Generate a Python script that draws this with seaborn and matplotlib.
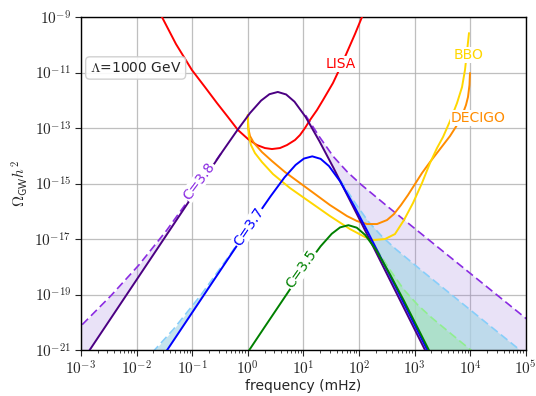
import numpy as np
import matplotlib
matplotlib.use("Agg")
import matplotlib.pyplot as plt
import seaborn as sns
from matplotlib.ticker import FuncFormatter, FixedLocator, LogLocator, NullLocator

sns.set_style("ticks")
plt.rcParams['font.family'] = ['DejaVu Sans']
plt.rcParams['mathtext.fontset'] = 'cm'

# ---- data (log10 of frequency [mHz] and log10 of Omega h^2) ----
lisa_lf = [-1.669, -1.543, -1.291, -1.004, -0.770, -0.554, -0.356, -0.176, 0.004, 0.165, 0.309, 0.435,
           0.579, 0.705, 0.849, 0.939, 1.029, 1.119, 1.245, 1.353, 1.532, 1.676, 1.802, 1.928, 2.054, 2.162]
lisa_lo = [-8.604, -9.0, -9.973, -10.910, -11.523, -12.099, -12.604, -13.072, -13.396, -13.613, -13.721, -13.757,
           -13.721, -13.613, -13.432, -13.252, -13.0, -12.712, -12.351, -11.991, -11.378, -10.766, -10.189, -9.613, -9.0, -8.495]

decigo_lf = [0.0, 0.009, 0.040, 0.112, 0.255, 0.435, 0.669, 0.939, 1.209, 1.478, 1.784, 1.964, 2.144, 2.324,
             2.504, 2.629, 2.755, 2.881, 3.007, 3.133, 3.277, 3.457, 3.637, 3.763, 3.871, 3.924, 3.960, 3.987, 3.996]
decigo_lo = [-12.532, -13.0, -13.288, -13.541, -13.865, -14.189, -14.586, -14.982, -15.378, -15.775, -16.171, -16.351,
             -16.459, -16.459, -16.315, -16.099, -15.775, -15.414, -15.018, -14.622, -14.225, -13.757, -13.288,
             -12.892, -12.459, -12.171, -11.883, -11.450, -11.018]

bbo_lf = [0.0, 0.009, 0.022, 0.058, 0.129, 0.255, 0.453, 0.759, 1.119, 1.478, 1.838, 2.108, 2.252, 2.468,
          2.647, 2.809, 2.971, 3.133, 3.277, 3.403, 3.511, 3.637, 3.763, 3.853, 3.906, 3.942, 3.978]
bbo_lo = [-12.532, -13.0, -13.324, -13.613, -13.901, -14.225, -14.658, -15.162, -15.667, -16.171, -16.640, -16.928,
          -17.036, -17.0, -16.820, -16.315, -15.703, -14.982, -14.261, -13.721, -13.324, -12.748, -12.099, -11.523,
          -10.910, -10.261, -9.577]

# C = 3.8
c38_lf = [-3.46, -2.96, -2.46, -1.96, -1.46, -0.96, -0.46, -0.21, 0.04, 0.24, 0.39, 0.54, 0.69, 0.84, 1.04, 1.29, 1.54, 1.79, 2.04, 2.54, 3.04, 3.54]
c38_lo = [-22.85, -21.35, -19.85, -18.35, -16.85, -15.35, -13.86, -13.14, -12.46, -12.01, -11.78, -11.70, -11.79, -12.05, -12.60, -13.48, -14.43, -15.42, -16.41, -18.41, -20.41, -22.41]
c38_dlow_lf = [-3.46, -2.96, -2.46, -1.96, -1.46, -0.96, -0.46]
c38_dlow_lo = [-21.03, -20.05, -19.04, -17.94, -16.69, -15.30, -13.85]
c38_dhigh_lf = [1.04, 1.29, 1.54, 1.79, 2.04, 2.54, 3.04, 3.54, 4.04, 4.54, 5.04]
c38_dhigh_lo = [-12.54, -13.32, -14.03, -14.58, -15.04, -15.87, -16.68, -17.49, -18.30, -19.11, -19.92]

# C = 3.7
c37_lf = [-1.84, -1.34, -0.84, -0.34, 0.16, 0.41, 0.66, 0.86, 1.01, 1.16, 1.31, 1.46, 1.66, 1.91, 2.16, 2.41, 2.66, 3.16, 3.66]
c37_lo = [-22.17, -20.67, -19.17, -17.67, -16.18, -15.46, -14.78, -14.33, -14.10, -14.02, -14.11, -14.37, -14.92, -15.80, -16.75, -17.74, -18.73, -20.73, -22.73]
c37_dlow_lf = [-2.34, -1.84, -1.34, -0.84, -0.34, 0.16]
c37_dlow_lo = [-22.37, -21.36, -20.26, -19.01, -17.62, -16.17]
c37_dhigh_lf = [1.66, 1.91, 2.16, 2.41, 2.66, 3.16, 3.66, 4.16, 4.66, 5.16]
c37_dhigh_lo = [-14.86, -15.64, -16.35, -16.90, -17.36, -18.19, -19.00, -19.81, -20.62, -21.43]

# C = 3.5
c35_lf = [-0.19, 0.31, 0.81, 1.06, 1.31, 1.51, 1.66, 1.81, 1.96, 2.11, 2.31, 2.56, 2.81, 3.06, 3.31, 3.81]
c35_lo = [-21.65, -20.15, -18.66, -17.94, -17.26, -16.81, -16.58, -16.50, -16.59, -16.85, -17.40, -18.28, -19.23, -20.22, -21.21, -23.21]
c35_dhigh_lf = [2.31, 2.56, 2.81, 3.06, 3.31, 3.81, 4.31]
c35_dhigh_lo = [-17.34, -18.12, -18.83, -19.38, -19.84, -20.67, -21.48]

xticks_exp = [-3, -2, -1, 0, 1, 2, 3, 4, 5]
yticks_exp = [-21, -19, -17, -15, -13, -11, -9]


def p(a):
    return 10.0 ** np.asarray(a)


fig = plt.figure(figsize=(5.36, 3.96), dpi=100)
ax = fig.add_axes([0.151, 0.116, 0.830, 0.841])
ax.set_xscale('log')
ax.set_yscale('log')


def shade(dlf, dlo, slf, slo, color, alpha):
    sol = np.interp(dlf, slf, slo)
    ax.fill_between(p(dlf), p(sol), p(dlo), color=color, alpha=alpha, lw=0, zorder=1)


shade(c38_dlow_lf, c38_dlow_lo, c38_lf, c38_lo, 'mediumpurple', 0.2)
shade(c38_dhigh_lf, c38_dhigh_lo, c38_lf, c38_lo, 'mediumpurple', 0.2)
shade(c37_dlow_lf, c37_dlow_lo, c37_lf, c37_lo, 'lightblue', 0.7)
shade(c37_dhigh_lf, c37_dhigh_lo, c37_lf, c37_lo, 'lightblue', 0.7)
shade(c35_dhigh_lf, c35_dhigh_lo, c35_lf, c35_lo, 'lightgreen', 0.35)

lw = 1.4
kw = dict(ax=ax, sort=False, estimator=None, legend=False)


def dashed(lf, lo, color):
    sns.lineplot(x=p(lf), y=p(lo), color=color, lw=1.2, zorder=2, **kw)
    ax.lines[-1].set_dashes([5, 2.5])


dashed(c38_dlow_lf, c38_dlow_lo, 'blueviolet')
dashed(c38_dhigh_lf, c38_dhigh_lo, 'blueviolet')
dashed(c37_dlow_lf, c37_dlow_lo, 'lightskyblue')
dashed(c37_dhigh_lf, c37_dhigh_lo, 'lightskyblue')
dashed(c35_dhigh_lf, c35_dhigh_lo, 'lightgreen')

sns.lineplot(x=p(lisa_lf), y=p(lisa_lo), color='red', lw=lw, zorder=3, **kw)
sns.lineplot(x=p(decigo_lf), y=p(decigo_lo), color='darkorange', lw=lw, zorder=3, **kw)
sns.lineplot(x=p(bbo_lf), y=p(bbo_lo), color='gold', lw=lw, zorder=3, **kw)

sns.lineplot(x=p(c38_lf), y=p(c38_lo), color='indigo', lw=lw, zorder=4, **kw)
sns.lineplot(x=p(c37_lf), y=p(c37_lo), color='blue', lw=lw, zorder=4, **kw)
sns.lineplot(x=p(c35_lf), y=p(c35_lo), color='green', lw=lw, zorder=4, **kw)

ax.set_xlim(1e-3, 1e5)
ax.set_ylim(1e-21, 1e-9)

fmt = FuncFormatter(lambda v, pos: r"$10^{%d}$" % int(round(np.log10(v))))
ax.xaxis.set_major_locator(FixedLocator(p(xticks_exp)))
ax.xaxis.set_minor_locator(LogLocator(base=10, subs=np.arange(2, 10), numticks=20))
ax.xaxis.set_major_formatter(fmt)
ax.yaxis.set_major_locator(FixedLocator(p(yticks_exp)))
ax.yaxis.set_minor_locator(NullLocator())
ax.yaxis.set_major_formatter(fmt)
ax.tick_params(axis='both', which='major', labelsize=11, length=4, width=0.8, direction='out', pad=3)
ax.tick_params(axis='x', which='minor', length=2.5, width=0.6)
ax.grid(True, which='major', color='#b0b0b0', lw=0.9, alpha=0.8, zorder=0)
ax.set_axisbelow(True)
for s in ax.spines.values():
    s.set_visible(True)
    s.set_color('black')
    s.set_linewidth(1.0)

ax.set_xlabel('frequency (mHz)', fontsize=10, labelpad=1)
ax.set_ylabel(r'$\Omega_{\mathsf{GW}}h^2$', fontsize=11, labelpad=3)

bb = dict(fc='white', ec='none', pad=0.5)
ax.text(47.4, 2.02e-11, 'LISA', color='red', fontsize=10, ha='center', va='center', bbox=bb, zorder=5)
ax.text(9506, 4.28e-11, 'BBO', color='gold', fontsize=10, ha='center', va='center', bbox=bb, zorder=5)
ax.text(13800, 2.29e-13, 'DECIGO', color='darkorange', fontsize=10, ha='center', va='center', bbox=bb, zorder=5)
ax.text(0.1324, 1.23e-15, 'C=3.8', color='blueviolet', fontsize=10, ha='center', va='center', rotation=53, bbox=bb, zorder=5)
ax.text(1.05, 2.7e-17, 'C=3.7', color='blue', fontsize=10, ha='center', va='center', rotation=56, bbox=bb, zorder=5)
ax.text(9.06, 8.3e-19, 'C=3.5', color='green', fontsize=10, ha='center', va='center', rotation=55, bbox=bb, zorder=5)

ax.text(0.02, 0.847, r'$\Lambda$=1000 GeV', transform=ax.transAxes, fontsize=10, ha='left', va='center',
        bbox=dict(boxstyle='round,pad=0.3', fc='white', ec='#cccccc', alpha=0.9), zorder=6)

fig.savefig('out.png', dpi=100)
